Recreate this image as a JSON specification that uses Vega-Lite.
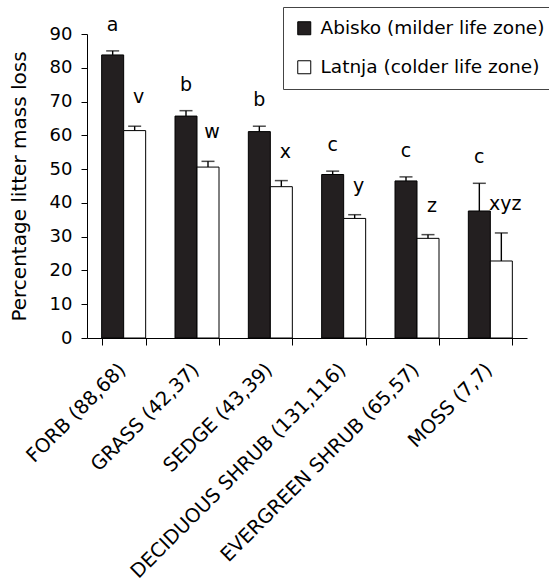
{
  "$schema": "https://vega.github.io/schema/vega-lite/v6.json",
  "width": 440,
  "height": 304,
  "autosize": {"type": "none"},
  "padding": {"left": 87, "top": 34, "right": 22, "bottom": 248},
  "background": "white",
  "config": {
    "font": "DejaVu Sans",
    "view": {"stroke": null},
    "axisY": {
      "titleFontSize": 20, "titleFontWeight": "normal", "titleColor": "black", "titlePadding": 20,
      "labelOverlap": false, "labelFontSize": 18, "labelColor": "black", "labelPadding": 9,
      "tickSize": 6, "tickColor": "black", "domainColor": "black", "grid": false
    }
  },
  "data": {
    "values": [
      {"type": "FORB (88,68)", "site": "Abisko (milder life zone)", "mean": 83.8, "upper": 85.0, "letter": "a"},
      {"type": "FORB (88,68)", "site": "Latnja (colder life zone)", "mean": 61.4, "upper": 62.7, "letter": "v"},
      {"type": "GRASS (42,37)", "site": "Abisko (milder life zone)", "mean": 65.7, "upper": 67.3, "letter": "b"},
      {"type": "GRASS (42,37)", "site": "Latnja (colder life zone)", "mean": 50.6, "upper": 52.3, "letter": "w"},
      {"type": "SEDGE (43,39)", "site": "Abisko (milder life zone)", "mean": 61.1, "upper": 62.7, "letter": "b"},
      {"type": "SEDGE (43,39)", "site": "Latnja (colder life zone)", "mean": 44.8, "upper": 46.6, "letter": "x"},
      {"type": "DECIDUOUS SHRUB (131,116)", "site": "Abisko (milder life zone)", "mean": 48.4, "upper": 49.4, "letter": "c"},
      {"type": "DECIDUOUS SHRUB (131,116)", "site": "Latnja (colder life zone)", "mean": 35.4, "upper": 36.5, "letter": "y"},
      {"type": "EVERGREEN SHRUB (65,57)", "site": "Abisko (milder life zone)", "mean": 46.5, "upper": 47.7, "letter": "c"},
      {"type": "EVERGREEN SHRUB (65,57)", "site": "Latnja (colder life zone)", "mean": 29.5, "upper": 30.6, "letter": "z"},
      {"type": "MOSS (7,7)", "site": "Abisko (milder life zone)", "mean": 37.6, "upper": 45.8, "letter": "c"},
      {"type": "MOSS (7,7)", "site": "Latnja (colder life zone)", "mean": 22.8, "upper": 31.1, "letter": "xyz"}
    ]
  },
  "encoding": {
    "x": {
      "field": "type", "type": "nominal", "sort": null,
      "scale": {"paddingInner": 0.4, "paddingOuter": 0.2},
      "axis": {
        "title": null, "labelAngle": -45, "labelFontSize": 19.5, "labelColor": "black",
        "tickBand": "extent", "tickSize": 7, "tickColor": "black", "domainColor": "black",
        "labelPadding": 15, "labelOffset": -8, "labelLimit": 400, "labelOverlap": false
      }
    },
    "xOffset": {"field": "site", "type": "nominal", "scale": {"paddingInner": 0, "paddingOuter": 0}}
  },
  "layer": [
    {
      "mark": {"type": "bar", "stroke": "black", "strokeWidth": 1},
      "encoding": {
        "y": {
          "field": "mean", "type": "quantitative",
          "scale": {"domain": [0, 90], "nice": false},
          "axis": {"title": "Percentage litter mass loss", "values": [0, 10, 20, 30, 40, 50, 60, 70, 80, 90]}
        },
        "color": {
          "field": "site", "type": "nominal",
          "scale": {"range": ["#231f20", "white"]},
          "legend": {
            "title": null, "orient": "none", "legendX": 196, "legendY": -27,
            "padding": 12, "strokeColor": "#444", "fillColor": "white",
            "symbolType": "square", "symbolSize": 169, "symbolStrokeColor": "black",
            "symbolStrokeWidth": 1, "symbolOpacity": 1,
            "labelFontSize": 18.5, "labelColor": "black", "labelOffset": 7,
            "rowPadding": 20, "labelLimit": 400
          }
        }
      }
    },
    {
      "mark": {"type": "rule", "color": "black", "strokeWidth": 1.4},
      "encoding": {
        "y": {"field": "mean", "type": "quantitative",
          "axis": {"title": "Percentage litter mass loss", "values": [0, 10, 20, 30, 40, 50, 60, 70, 80, 90]}},
        "y2": {"field": "upper"}
      }
    },
    {
      "mark": {"type": "tick", "color": "black", "size": 13, "thickness": 1.5},
      "encoding": {
        "y": {"field": "upper", "type": "quantitative",
          "axis": {"title": "Percentage litter mass loss", "values": [0, 10, 20, 30, 40, 50, 60, 70, 80, 90]}}
      }
    },
    {
      "transform": [{"filter": "datum.site === 'Abisko (milder life zone)'"}],
      "mark": {"type": "text", "fontSize": 19, "color": "black", "baseline": "alphabetic", "align": "center", "dy": -20},
      "encoding": {
        "y": {"field": "upper", "type": "quantitative",
          "axis": {"title": "Percentage litter mass loss", "values": [0, 10, 20, 30, 40, 50, 60, 70, 80, 90]}},
        "text": {"field": "letter"}
      }
    },
    {
      "transform": [{"filter": "datum.site === 'Latnja (colder life zone)'"}],
      "mark": {"type": "text", "fontSize": 19, "color": "black", "baseline": "alphabetic", "align": "center", "dy": -23, "dx": 4},
      "encoding": {
        "y": {"field": "upper", "type": "quantitative",
          "axis": {"title": "Percentage litter mass loss", "values": [0, 10, 20, 30, 40, 50, 60, 70, 80, 90]}},
        "text": {"field": "letter"}
      }
    }
  ]
}
